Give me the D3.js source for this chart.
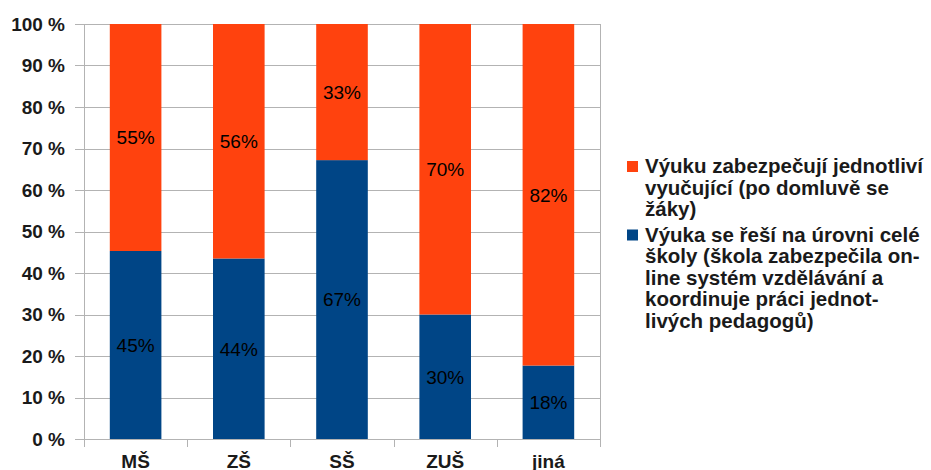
<!DOCTYPE html>
<html>
<head>
<meta charset="utf-8">
<script src="https://cdn.jsdelivr.net/npm/d3@7"></script>
<style>
  body { margin: 0; background: #fff; }
  text { font-family: "Liberation Sans", Arial, sans-serif; }
</style>
</head>
<body>
<div id="svgWrapper"></div>
<script>
const width = 931;
const height = 470;

// Data
const categories = ["MŠ", "ZŠ", "SŠ", "ZUŠ", "jiná"];
const wholeSchool = [45.3, 43.5, 67.2, 30.0, 17.7];   // blue, bottom
const individual = [54.7, 56.5, 32.8, 70.0, 82.3];   // orange, top
const wholeLabels = ["45%", "44%", "67%", "30%", "18%"];
const individualLabels = ["55%", "56%", "33%", "70%", "82%"];
const yTicks = [0, 10, 20, 30, 40, 50, 60, 70, 80, 90, 100];
const legendIndividual = ["Výuku zabezpečují jednotliví", "vyučující (po domluvě se", "žáky)"];
const legendWhole = ["Výuka se řeší na úrovni celé", "školy (škola zabezpečila on-", "line systém vzdělávání a", "koordinuje práci jednot-", "livých pedagogů)"];

const blue = "#004586";
const orange = "#ff420e";

const margin = { left: 84, top: 24, right: 331, bottom: 31 };
const plotW = width - margin.left - margin.right;
const plotH = height - margin.top - margin.bottom;

const svg = d3.select("#svgWrapper")
    .append("svg")
    .attr("width", width)
    .attr("height", height);

svg.append("rect")
    .attr("width", width)
    .attr("height", height)
    .attr("fill", "#fff");

const g = svg.append("g")
    .attr("transform", `translate(${margin.left},${margin.top})`);

const x = d3.scaleBand()
    .domain(categories)
    .range([0, plotW])
    .paddingInner(0.5)
    .paddingOuter(0.25);

const y = d3.scaleLinear()
    .domain([0, 100])
    .range([plotH, 0]);

// Gridlines (with ticks extending left)
g.selectAll(".grid")
    .data(yTicks)
    .enter()
    .append("line")
    .attr("x1", -9)
    .attr("x2", plotW)
    .attr("y1", d => Math.round(y(d)) + 0.5)
    .attr("y2", d => Math.round(y(d)) + 0.5)
    .attr("stroke", "#b3b3b3")
    .attr("stroke-width", 1);

// Left and right border lines
[0, plotW].forEach(xx => {
    g.append("line")
        .attr("x1", xx + 0.5).attr("x2", xx + 0.5)
        .attr("y1", 0).attr("y2", plotH)
        .attr("stroke", "#b3b3b3");
});

// x-axis category ticks at band boundaries
const step = x.step();
g.selectAll(".xtick")
    .data(d3.range(categories.length + 1))
    .enter()
    .append("line")
    .attr("x1", i => Math.round(i * step) + 0.5)
    .attr("x2", i => Math.round(i * step) + 0.5)
    .attr("y1", plotH)
    .attr("y2", plotH + 8)
    .attr("stroke", "#b3b3b3");

// Bars: blue bottom
g.selectAll(".barBlue")
    .data(categories)
    .enter()
    .append("rect")
    .attr("x", d => x(d))
    .attr("width", x.bandwidth())
    .attr("y", (d, i) => y(wholeSchool[i]))
    .attr("height", (d, i) => y(0) - y(wholeSchool[i]))
    .attr("fill", blue);

// Bars: orange top
g.selectAll(".barOrange")
    .data(categories)
    .enter()
    .append("rect")
    .attr("x", d => x(d))
    .attr("width", x.bandwidth())
    .attr("y", (d, i) => y(wholeSchool[i] + individual[i]))
    .attr("height", (d, i) => y(wholeSchool[i]) - y(wholeSchool[i] + individual[i]))
    .attr("fill", orange);

// Data labels
g.selectAll(".lblBlue")
    .data(categories)
    .enter()
    .append("text")
    .attr("x", d => x(d) + x.bandwidth() / 2)
    .attr("y", (d, i) => (y(0) + y(wholeSchool[i])) / 2)
    .attr("dy", "0.36em")
    .attr("text-anchor", "middle")
    .attr("font-size", 19)
    .attr("fill", "#000")
    .text((d, i) => wholeLabels[i]);

g.selectAll(".lblOrange")
    .data(categories)
    .enter()
    .append("text")
    .attr("x", d => x(d) + x.bandwidth() / 2)
    .attr("y", (d, i) => (y(wholeSchool[i]) + y(wholeSchool[i] + individual[i])) / 2)
    .attr("dy", "0.36em")
    .attr("text-anchor", "middle")
    .attr("font-size", 19)
    .attr("fill", "#000")
    .text((d, i) => individualLabels[i]);

// Y tick labels
g.selectAll(".ylabel")
    .data(yTicks)
    .enter()
    .append("text")
    .attr("x", -19)
    .attr("y", d => y(d))
    .attr("dy", "0.36em")
    .attr("text-anchor", "end")
    .attr("font-size", 19)
    .attr("font-weight", "bold")
    .attr("fill", "#1a1a1a")
    .text(d => d + " %");

// X category labels
g.selectAll(".xlabel")
    .data(categories)
    .enter()
    .append("text")
    .attr("x", d => x(d) + x.bandwidth() / 2)
    .attr("y", plotH + 29)
    .attr("text-anchor", "middle")
    .attr("font-size", 19)
    .attr("font-weight", "bold")
    .attr("fill", "#1a1a1a")
    .text(d => d);

// Legend
const legend = svg.append("g");
const legendItems = [
    { color: orange, lines: legendIndividual, baseline: 173 },
    { color: blue, lines: legendWhole, baseline: 241.5 }
];
legendItems.forEach(item => {
    legend.append("rect")
        .attr("x", 627)
        .attr("y", item.baseline - 12)
        .attr("width", 11)
        .attr("height", 11)
        .attr("fill", item.color);
    item.lines.forEach((line, j) => {
        legend.append("text")
            .attr("x", 645)
            .attr("y", item.baseline + j * 21.6)
            .attr("font-size", 20.5)
            .attr("font-weight", "bold")
            .attr("fill", "#1a1a1a")
            .text(line);
    });
});
</script>
</body>
</html>
